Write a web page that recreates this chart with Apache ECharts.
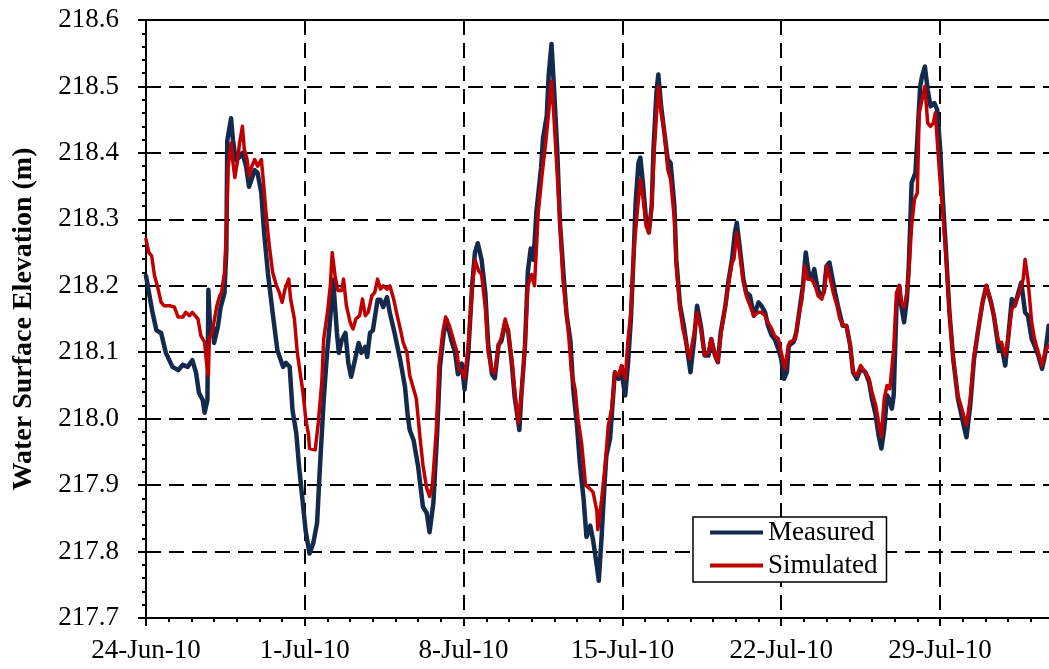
<!DOCTYPE html>
<html>
<head>
<meta charset="utf-8">
<title>Water Surface Elevation</title>
<script src="https://cdn.jsdelivr.net/npm/echarts@6/dist/echarts.min.js"></script>
<style>
  html, body { margin: 0; padding: 0; background: #ffffff; }
  #chart { width: 1049px; height: 669px; }
</style>
</head>
<body>
<div id="chart"></div>
<script>
// Hours elapsed since 24-Jun-2010 00:00 and water level (m) for each record
const measuredHours = [0,7,11,16,21,28,34,39,44,49,53,56,60,62,65,66,68,71,72,76,79,83,85,86,90,92,95,99,102,106,109,111,115,118,122,125,129,134,139,145,148,152,155,159,162,169,173,177,181,184,188,191,195,198,202,204,207,211,214,217,221,225,228,232,234,237,240,245,248,251,255,258,263,269,274,277,279,283,288,293,297,300,304,308,311,315,318,323,327,330,334,337,341,345,348,351,355,359,362,366,369,373,376,380,383,387,390,395,397,401,404,407,410,413,418,420,424,426,429,432,435,438,442,445,449,452,456,459,463,466,470,473,477,479,482,485,487,491,496,500,503,507,510,513,516,518,521,523,526,529,532,535,537,540,542,545,548,552,555,559,561,565,569,573,576,580,583,587,591,595,598,602,605,608,613,616,620,623,625,628,632,635,639,643,648,651,655,658,662,665,669,672,675,678,680,685,688,692,695,698,701,704,707,710,713,717,720,723,725,729,732,737,741,745,748,752,756,761,765,768,772,775,778,781,784,786,789,791,794,797,799,802,805,807,810,814,816,819,821,824,827,830,834,837,840,843,846,850,854,859,865,868,872,876,880,885,889,894,897,902,905,909,912,916,919,923,926,930,933,937,940,944,948,951,955];
const measuredLevel = [218.215,218.159,218.133,218.129,218.099,218.078,218.073,218.081,218.078,218.088,218.069,218.039,218.028,218.009,218.028,218.194,218.129,218.138,218.114,218.138,218.168,218.189,218.254,218.419,218.452,218.419,218.389,218.394,218.400,218.379,218.349,218.352,218.374,218.370,218.340,218.279,218.219,218.159,218.103,218.078,218.084,218.078,218.013,217.978,217.927,217.830,217.797,217.813,217.843,217.927,218.028,218.088,218.153,218.209,218.129,218.099,218.118,218.129,218.084,218.063,218.088,218.114,218.099,218.108,218.093,218.129,218.133,218.179,218.179,218.168,218.183,218.159,218.129,218.088,218.048,218.003,217.983,217.968,217.927,217.867,217.858,217.829,217.873,217.978,218.078,218.129,218.149,218.118,218.100,218.067,218.083,218.044,218.100,218.200,218.250,218.264,218.239,218.189,218.111,218.067,218.061,218.111,218.117,218.144,218.133,218.083,218.033,217.983,218.033,218.111,218.222,218.256,218.239,218.311,218.378,218.422,218.456,218.517,218.564,218.489,218.406,218.294,218.211,218.156,218.117,218.044,217.989,217.933,217.878,217.822,217.839,217.817,217.778,217.756,217.822,217.900,217.944,217.970,218.070,218.060,218.070,218.035,218.085,218.150,218.250,218.325,218.385,218.393,218.350,218.300,218.280,218.320,218.410,218.490,218.518,218.470,218.435,218.390,218.385,218.320,218.240,218.170,218.140,218.100,218.070,218.120,218.170,218.140,218.095,218.095,218.120,218.095,218.085,218.130,218.170,218.205,218.240,218.280,218.295,218.260,218.210,218.190,218.185,218.155,218.175,218.170,218.160,218.140,218.125,218.120,218.105,218.090,218.060,218.070,218.110,218.115,218.130,218.170,218.200,218.250,218.220,218.210,218.225,218.200,218.185,218.190,218.230,218.235,218.220,218.190,218.170,218.140,218.140,218.110,218.070,218.060,218.075,218.070,218.055,218.030,218.005,217.975,217.955,217.985,218.035,218.030,218.015,218.035,218.170,218.200,218.170,218.145,218.180,218.230,218.355,218.370,218.420,218.500,218.515,218.530,218.495,218.470,218.475,218.465,218.410,218.330,218.260,218.160,218.090,218.030,217.990,217.972,218.020,218.090,218.130,218.175,218.200,218.175,218.155,218.105,218.110,218.080,218.120,218.180,218.170,218.190,218.205,218.160,218.155,218.120,218.110,218.095,218.075,218.095,218.140];

const simulatedHours = [0,3,6,9,12,16,19,25,30,34,39,42,46,49,55,58,62,64,66,67,70,72,75,78,80,83,85,87,90,92,94,97,99,102,104,107,109,112,115,118,122,124,127,130,134,138,141,144,147,151,153,157,160,163,166,169,172,173,179,182,186,188,192,195,197,200,203,207,209,212,216,219,222,226,229,232,235,239,242,245,248,251,255,258,262,265,269,272,276,279,283,286,290,293,297,300,303,307,310,314,317,321,325,329,331,334,337,341,345,348,352,355,359,362,366,369,373,376,380,383,387,390,394,397,401,404,408,411,415,419,423,426,429,431,434,438,441,447,450,454,457,461,465,470,473,477,478,482,486,489,493,496,500,503,507,510,513,516,519,523,526,529,532,535,538,542,545,548,552,555,559,561,565,568,572,575,580,583,587,591,595,598,602,605,608,613,616,620,622,625,628,632,635,639,643,648,651,655,658,662,665,669,672,676,679,681,687,690,694,697,700,704,708,711,715,718,720,724,727,731,734,738,741,745,748,752,756,761,765,768,772,775,778,781,784,787,791,794,797,799,802,805,807,810,813,816,818,821,824,827,830,833,835,837,840,843,846,850,854,859,865,868,872,876,880,885,889,894,897,902,905,909,912,916,919,923,926,928,930,933,937,940,944,948,951,955];
const simulatedLevel = [218.270,218.250,218.245,218.215,218.200,218.175,218.170,218.170,218.168,218.153,218.153,218.160,218.155,218.160,218.150,218.125,218.115,218.085,218.065,218.120,218.130,218.130,218.170,218.185,218.190,218.220,218.280,218.380,218.415,218.385,218.363,218.390,218.415,218.440,218.405,218.390,218.365,218.380,218.390,218.380,218.390,218.360,218.310,218.265,218.220,218.200,218.190,218.175,218.195,218.210,218.180,218.150,218.100,218.070,218.040,218.000,217.975,217.955,217.953,217.990,218.055,218.120,218.160,218.200,218.250,218.215,218.193,218.193,218.210,218.170,218.145,218.135,218.150,218.155,218.180,218.155,218.160,218.185,218.190,218.210,218.195,218.200,218.195,218.200,218.180,218.160,218.135,218.115,218.100,218.065,218.045,218.030,217.970,217.930,217.895,217.883,217.900,217.980,218.080,218.130,218.153,218.140,218.120,218.100,218.075,218.072,218.061,218.111,218.194,218.239,218.222,218.217,218.167,218.100,218.072,218.069,218.111,218.122,218.150,218.133,218.089,218.044,217.994,218.033,218.111,218.200,218.217,218.200,218.311,218.367,218.417,218.461,218.508,218.467,218.394,218.294,218.211,218.128,218.072,218.044,218.000,217.961,217.900,217.894,217.889,217.861,217.833,217.878,217.933,217.989,218.017,218.070,218.065,218.080,218.060,218.120,218.160,218.250,218.300,218.360,218.330,218.290,218.280,218.320,218.410,218.500,218.460,218.435,218.375,218.360,218.300,218.230,218.165,218.135,218.110,218.090,218.130,218.160,218.135,218.095,218.100,218.120,218.095,218.085,218.125,218.170,218.200,218.235,218.240,218.280,218.250,218.205,218.185,218.170,218.155,218.160,218.160,218.155,218.145,218.135,218.125,218.120,218.100,218.075,218.105,218.115,218.120,218.150,218.180,218.230,218.210,218.210,218.200,218.185,218.180,218.195,218.230,218.210,218.190,218.170,218.150,218.140,218.140,218.110,218.070,218.065,218.080,218.070,218.060,218.040,218.020,217.995,217.973,218.030,218.050,218.045,218.105,218.190,218.200,218.175,218.168,218.190,218.220,218.290,218.330,218.340,218.460,218.480,218.500,218.445,218.440,218.445,218.460,218.420,218.360,218.310,218.250,218.160,218.090,218.035,218.005,217.990,218.030,218.095,218.130,218.175,218.200,218.175,218.155,218.115,218.115,218.095,218.120,218.165,218.170,218.185,218.200,218.210,218.240,218.210,218.145,218.120,218.100,218.080,218.100,218.110];

// Axis ticks: a major tick every week, a minor tick every day
const weekHours = 168;
const axisEndHours = 1008;
const lastLabelHours = 840;
const levelTicks = { min: 217.7, max: 218.6, step: 0.1 };
const monthNames = ['Jan','Feb','Mar','Apr','May','Jun','Jul','Aug','Sep','Oct','Nov','Dec'];
const startUTC = Date.UTC(2010, 5, 24);

function pairs(hours, values) {
  return hours.map((h, i) => [h, values[i]]);
}

function dateLabel(h) {
  const r = Math.round(h);
  if (r % weekHours !== 0 || r > lastLabelHours) return '';
  const d = new Date(startUTC + r * 3600000);
  return d.getUTCDate() + '-' + monthNames[d.getUTCMonth()] + '-' + String(d.getUTCFullYear()).slice(2);
}

const serif = 'Liberation Serif';
const gridDash = { color: '#000000', width: 2, type: [15, 8] };
const chart = echarts.init(document.getElementById('chart'), null, { renderer: 'canvas' });

chart.setOption({
  animation: false,
  backgroundColor: '#ffffff',
  grid: {
    left: 146,
    top: 20,
    width: 952.8,
    height: 598,
    show: true,
    borderColor: '#000000',
    borderWidth: 2,
    backgroundColor: 'transparent',
    containLabel: false,
    outerBoundsMode: 'none'
  },
  legend: {
    orient: 'vertical',
    left: 693,
    top: 517,
    padding: [2, 9, 3, 17],
    itemGap: 6,
    itemWidth: 53,
    itemHeight: 4,
    icon: 'rect',
    backgroundColor: '#ffffff',
    borderColor: '#000000',
    borderWidth: 1.5,
    borderRadius: 0,
    textStyle: { fontFamily: serif, fontSize: 27, color: '#000000' },
    data: ['Measured', 'Simulated']
  },
  xAxis: {
    type: 'value',
    min: 0,
    max: axisEndHours,
    interval: weekHours,
    axisLine: { show: true, onZero: false, lineStyle: { color: '#000000', width: 2 } },
    axisTick: { show: true, inside: false, length: 8, lineStyle: { color: '#000000', width: 2 } },
    minorTick: { show: true, splitNumber: 7, length: 4, lineStyle: { color: '#000000', width: 2 } },
    axisLabel: {
      margin: 19,
      fontFamily: serif,
      fontSize: 27,
      color: '#000000',
      showMaxLabel: false,
      hideOverlap: false,
      formatter: dateLabel
    },
    splitLine: { show: true, lineStyle: gridDash },
    minorSplitLine: { show: false }
  },
  yAxis: {
    type: 'value',
    min: levelTicks.min,
    max: levelTicks.max,
    interval: levelTicks.step,
    name: 'Water Surface Elevation (m)',
    nameLocation: 'middle',
    nameGap: 108,
    nameTextStyle: { fontFamily: serif, fontSize: 28, fontWeight: 'bold', color: '#000000' },
    axisLine: { show: true, onZero: false, lineStyle: { color: '#000000', width: 2 } },
    axisTick: { show: true, inside: false, length: 8, lineStyle: { color: '#000000', width: 2 } },
    minorTick: { show: true, splitNumber: 5, length: 4, lineStyle: { color: '#000000', width: 2 } },
    axisLabel: {
      margin: 27,
      fontFamily: serif,
      fontSize: 27,
      color: '#000000',
      hideOverlap: false,
      formatter: v => v.toFixed(1)
    },
    splitLine: { show: true, lineStyle: gridDash }
  },
  series: [
    {
      name: 'Measured',
      type: 'line',
      data: pairs(measuredHours, measuredLevel),
      symbol: 'none',
      color: '#142a4c',
      lineStyle: { color: '#142a4c', width: 4.5, join: 'round', cap: 'round' },
      z: 2
    },
    {
      name: 'Simulated',
      type: 'line',
      data: pairs(simulatedHours, simulatedLevel),
      symbol: 'none',
      color: '#c00000',
      lineStyle: { color: '#c00000', width: 3.5, join: 'round', cap: 'round' },
      z: 3
    }
  ]
});
</script>
</body>
</html>
